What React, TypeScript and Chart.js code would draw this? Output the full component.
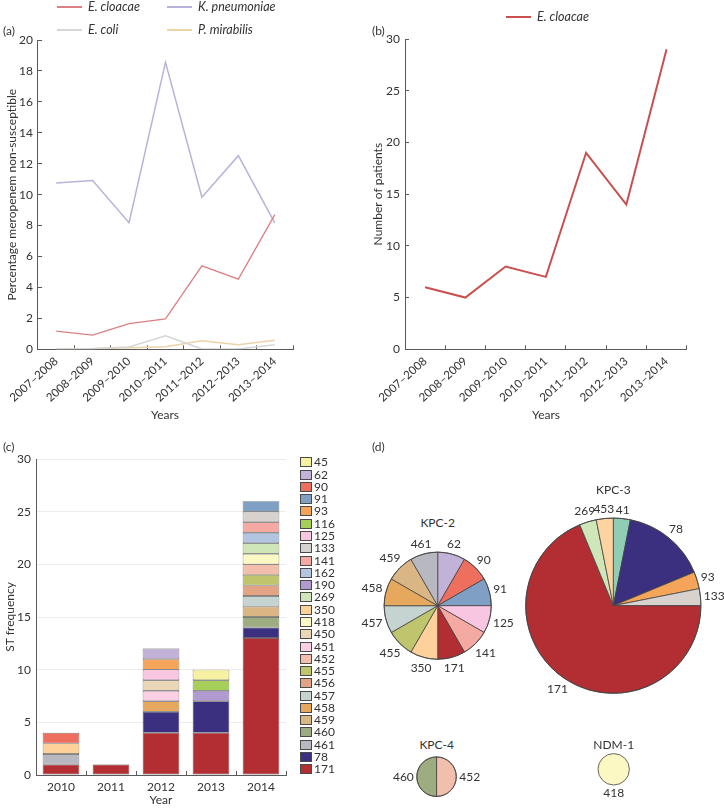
import React, { useEffect, useRef } from 'react';
import { Chart, registerables } from 'chart.js';

Chart.register(...registerables);

const FONT_FAMILY = 'Lato, "Open Sans", sans-serif';
const INK = '#333333';
const AXIS = '#5a5a5a';

// ---------- Panel (a) / (b) data ----------
const seasons = ['2007–2008', '2008–2009', '2009–2010', '2010–2011', '2011–2012', '2012–2013', '2013–2014'];
const pctEcloacae = [1.18, 0.92, 1.66, 1.96, 5.4, 4.54, 8.71];
const pctKpneumoniae = [10.75, 10.92, 8.19, 18.55, 9.83, 12.52, 8.17];
const pctEcoli = [0.02, 0.05, 0.15, 0.88, 0.02, 0.02, 0.3];
const pctPmirabilis = [0.02, 0.03, 0.1, 0.17, 0.55, 0.3, 0.58];
const patientsEcloacae = [6, 5, 8, 7, 19, 14, 29];

// ---------- Panel (c) data ----------
const stYears = ['2010', '2011', '2012', '2013', '2014'];
// stack order, bottom -> top
const stTypes = ['171', '78', '461', '460', '459', '458', '457', '456', '455', '452', '451', '450', '418', '350', '269', '190', '162', '141', '133', '125', '116', '93', '91', '90', '62', '45'];
const stCounts = [
  [1, 1, 4, 4, 13], // 171
  [0, 0, 2, 3, 1], // 78
  [1, 0, 0, 0, 0], // 461
  [0, 0, 0, 0, 1], // 460
  [0, 0, 0, 0, 1], // 459
  [0, 0, 1, 0, 0], // 458
  [0, 0, 0, 0, 1], // 457
  [0, 0, 0, 0, 1], // 456
  [0, 0, 0, 0, 1], // 455
  [0, 0, 0, 0, 1], // 452
  [0, 0, 1, 0, 0], // 451
  [0, 0, 1, 0, 0], // 450
  [0, 0, 0, 0, 1], // 418
  [1, 0, 0, 0, 0], // 350
  [0, 0, 0, 0, 1], // 269
  [0, 0, 0, 1, 0], // 190
  [0, 0, 0, 0, 1], // 162
  [0, 0, 0, 0, 1], // 141
  [0, 0, 0, 0, 1], // 133
  [0, 0, 1, 0, 0], // 125
  [0, 0, 0, 1, 0], // 116
  [0, 0, 1, 0, 0], // 93
  [0, 0, 0, 0, 1], // 91
  [1, 0, 0, 0, 0], // 90
  [0, 0, 1, 0, 0], // 62
  [0, 0, 0, 1, 0], // 45
];

// ---------- Panel (d) data ----------
const kpc2Types = ['62', '90', '91', '125', '141', '171', '350', '455', '457', '458', '459', '461'];
const kpc2Counts = [1, 1, 1, 1, 1, 1, 1, 1, 1, 1, 1, 1];
const kpc3Types = ['41', '78', '93', '133', '171', '269', '453'];
const kpc3Counts = [1, 5, 1, 1, 22, 1, 1];
const kpc4Types = ['452', '460'];
const kpc4Counts = [1, 1];
const ndm1Types = ['418'];
const ndm1Counts = [1];

const stColors: Record<string, string> = {
  '41': '#8fcdb4',
  '45': '#f6f1a0',
  '62': '#c3b2d7',
  '90': '#ef6f5f',
  '91': '#7fa0c4',
  '93': '#f5a55a',
  '116': '#a6cf5a',
  '125': '#f8c6e0',
  '133': '#d8d2ce',
  '141': '#f4a9a2',
  '162': '#b4c6df',
  '190': '#b19ad0',
  '269': '#cfe6b8',
  '350': '#fdd199',
  '418': '#fcf8c4',
  '450': '#ecd6b8',
  '451': '#fbd0e4',
  '452': '#f2bfac',
  '453': '#fdd3a0',
  '455': '#bec56c',
  '456': '#e3a486',
  '457': '#c5d4d0',
  '458': '#e6a85c',
  '459': '#d9b684',
  '460': '#9eac82',
  '461': '#b8b8c0',
  '78': '#3b2f7f',
  '171': '#b22e33',
};

const font12 = { family: FONT_FAMILY, size: 12 };
const fontX = { family: FONT_FAMILY, size: 11.5 };
const PIE_EDGE = '#444444';

const sliceLabelPlugin = {
  id: 'sliceLabels',
  afterDatasetsDraw(chart: any) {
    const ctx = chart.ctx;
    const meta = chart.getDatasetMeta(0);
    const labels = chart.data.labels;
    ctx.save();
    const first = meta.data[0];
    if (first) {
      const q = first.getProps(['x', 'y', 'outerRadius'], true);
      ctx.beginPath();
      ctx.arc(q.x, q.y, q.outerRadius, 0, Math.PI * 2);
      ctx.strokeStyle = PIE_EDGE;
      ctx.lineWidth = 0.8;
      ctx.stroke();
    }
    ctx.font = `12px ${FONT_FAMILY}`;
    ctx.fillStyle = INK;
    ctx.textAlign = 'center';
    ctx.textBaseline = 'middle';
    meta.data.forEach((arc: any, i: number) => {
      const p = arc.getProps(['x', 'y', 'startAngle', 'endAngle', 'outerRadius'], true);
      const mid = (p.startAngle + p.endAngle) / 2;
      const text = String(labels[i]);
      const w = ctx.measureText(text).width;
      const h = 10;
      const c = Math.cos(mid);
      const s = Math.sin(mid);
      const d = p.outerRadius + 3 + Math.abs(c) * w / 2 + Math.abs(s) * h / 2;
      ctx.fillText(text, p.x + c * d, p.y + s * d);
    });
    ctx.restore();
  },
};

function lineChartConfig(datasets: any[], yMax: number, yStep: number, yTitle: string, pad: any, yWidth: number, yTitlePad: number) {
  return {
    type: 'line',
    data: { labels: seasons, datasets },
    options: {
      responsive: false,
      animation: false,
      layout: { padding: pad },
      plugins: { legend: { display: false }, tooltip: { enabled: false } },
      scales: {
        x: {
          offset: true,
          grid: { offset: true, drawOnChartArea: false, drawTicks: true, tickLength: -4, color: AXIS },
          border: { color: AXIS, width: 1 },
          ticks: { autoSkip: false, maxRotation: 42, minRotation: 42, padding: 9, font: fontX, color: INK },
          title: { display: false },
          afterFit: (s: any) => { s.height = 70.7; },
        },
        y: {
          min: 0,
          max: yMax,
          grid: { drawOnChartArea: false, drawTicks: true, tickLength: -4, color: AXIS },
          border: { color: AXIS, width: 1 },
          ticks: { stepSize: yStep, padding: 9, font: font12, color: INK },
          title: { display: true, text: yTitle, font: font12, color: INK, padding: { top: yTitlePad, bottom: 0 } },
          afterFit: (s: any) => { s.width = yWidth; },
        },
      },
    },
  };
}

function pieConfig(types: string[], counts: number[], pad: any, edge = 0.8) {
  return {
    type: 'pie',
    data: {
      labels: types,
      datasets: [{
        data: counts,
        backgroundColor: types.map((t) => stColors[t]),
        borderColor: PIE_EDGE,
        borderWidth: edge,
      }],
    },
    options: {
      responsive: false,
      animation: false,
      layout: { padding: pad },
      plugins: { legend: { display: false }, tooltip: { enabled: false } },
    },
    plugins: [sliceLabelPlugin],
  };
}

const abs = (left: number, top: number, extra: any = {}) => ({ position: 'absolute' as const, left, top, ...extra });

function LegendLine({ x, y, color, text, width = 2 }: { x: number; y: number; color: string; text: string; width?: number }) {
  return (
    <>
      <div style={abs(x, y - width / 2, { width: 25, height: width, background: color })} />
      <div style={abs(x + 31, y - 8, { fontStyle: 'italic', fontSize: 12.5, lineHeight: '16px', color: INK, whiteSpace: 'nowrap' })}>{text}</div>
    </>
  );
}

function CenterText({ x, y, text, size = 12 }: { x: number; y: number; text: string; size?: number }) {
  return (
    <div style={abs(x, y, { transform: 'translate(-50%, -50%)', fontSize: size, color: INK, whiteSpace: 'nowrap', lineHeight: '14px' })}>{text}</div>
  );
}

export default function App() {
  const refA = useRef<HTMLCanvasElement>(null);
  const refB = useRef<HTMLCanvasElement>(null);
  const refC = useRef<HTMLCanvasElement>(null);
  const refK2 = useRef<HTMLCanvasElement>(null);
  const refK3 = useRef<HTMLCanvasElement>(null);
  const refK4 = useRef<HTMLCanvasElement>(null);
  const refN1 = useRef<HTMLCanvasElement>(null);

  useEffect(() => {
    const charts: Chart[] = [];

    charts.push(new Chart(refA.current!, lineChartConfig([
      { label: 'E. cloacae', data: pctEcloacae, borderColor: '#dc8083', borderWidth: 1.3, pointRadius: 0, tension: 0 },
      { label: 'K. pneumoniae', data: pctKpneumoniae, borderColor: '#b7b3d8', borderWidth: 1.5, pointRadius: 0, tension: 0 },
      { label: 'E. coli', data: pctEcoli, borderColor: '#d6d6d6', borderWidth: 1.5, pointRadius: 0, tension: 0 },
      { label: 'P. mirabilis', data: pctPmirabilis, borderColor: '#ebd3a8', borderWidth: 1.5, pointRadius: 0, tension: 0 },
    ], 20, 2, 'Percentage meropenem non-susceptible', { top: 40, right: 17, left: 0, bottom: 0 }, 36, 3) as any));

    charts.push(new Chart(refB.current!, lineChartConfig([
      { label: 'E. cloacae', data: patientsEcloacae, borderColor: '#c9504f', borderWidth: 2, pointRadius: 0, tension: 0 },
    ], 30, 5, 'Number of patients', { top: 39, right: 37.3, left: 0, bottom: 0 }, 43, 8.8) as any));

    charts.push(new Chart(refC.current!, {
      type: 'bar',
      data: {
        labels: stYears,
        datasets: stTypes.map((st, i) => ({
          label: st,
          data: stCounts[i].map((v) => (v > 0 ? v : null)),
          backgroundColor: stColors[st],
          borderColor: '#4a4a4a',
          borderWidth: 0.7,
          borderSkipped: false,
          barPercentage: 0.733,
          categoryPercentage: 1,
        })),
      },
      options: {
        responsive: false,
        animation: false,
        layout: { padding: { top: 29, right: 10, left: 0, bottom: 0 } },
        plugins: { legend: { display: false }, tooltip: { enabled: false } },
        scales: {
          x: {
            stacked: true,
            grid: { offset: true, drawOnChartArea: false, drawTicks: true, tickLength: -4, color: AXIS },
            border: { color: AXIS, width: 1 },
            ticks: { padding: 8.7, font: font12, color: INK },
            title: { display: false },
            afterFit: (s: any) => { s.height = 34; },
          },
          y: {
            stacked: true,
            min: 0,
            max: 30,
            grid: { drawOnChartArea: true, drawTicks: false, color: '#ececec' },
            border: { color: AXIS, width: 1 },
            ticks: { stepSize: 5, padding: 5, font: font12, color: INK },
            title: { display: true, text: 'ST frequency', font: font12, color: INK, padding: { top: 3, bottom: 0 } },
            afterFit: (s: any) => { s.width = 36; },
          },
        },
      },
    } as any));

    charts.push(new Chart(refK2.current!, pieConfig(kpc2Types, kpc2Counts, { left: 23.7, right: 28.3, top: 21.7, bottom: 20.3 }) as any));
    charts.push(new Chart(refK3.current!, pieConfig(kpc3Types, kpc3Counts, { left: 35.3, right: 22.7, top: 47.7, bottom: 26.3 }) as any));
    charts.push(new Chart(refK4.current!, pieConfig(kpc4Types, kpc4Counts, { left: 26.4, right: 33.3, top: 1.4, bottom: 8 }) as any));
    charts.push(new Chart(refN1.current!, pieConfig(ndm1Types, ndm1Counts, { left: 18, right: 20.6, top: 3.6, bottom: 20 }, 0) as any));

    return () => charts.forEach((c) => c.destroy());
  }, []);

  const cv = (ref: any, left: number, top: number, w: number, h: number) => (
    <canvas ref={ref} width={w} height={h} style={abs(left, top, { width: w, height: h })} />
  );

  const legendItems = [...stTypes].reverse();

  return (
    <div style={abs(0, 0, { width: 724, height: 809, background: '#ffffff', fontFamily: FONT_FAMILY, color: INK, overflow: 'hidden' })}>
      {cv(refA, 0, 0, 310, 420)}
      {cv(refB, 362, 0, 362, 420)}
      {cv(refC, 0, 430, 296, 379)}
      {cv(refK2, 360, 530, 160, 150)}
      {cv(refK3, 490, 470, 234, 250)}
      {cv(refK4, 390, 755, 100, 50)}
      {cv(refN1, 580, 750, 70, 55)}

      {/* panel letters */}
      <div style={abs(3, 23, { fontSize: 12, lineHeight: '16px' })}>(a)</div>
      <div style={abs(372, 23, { fontSize: 12, lineHeight: '16px' })}>(b)</div>
      <div style={abs(3, 439, { fontSize: 12, lineHeight: '16px' })}>(c)</div>
      <div style={abs(372, 439, { fontSize: 12, lineHeight: '16px' })}>(d)</div>

      {/* x-axis titles */}
      <CenterText x={165} y={415} text="Years" />
      <CenterText x={546} y={415} text="Years" />
      <CenterText x={161} y={800} text="Year" />

      {/* legend (a) */}
      <LegendLine x={57} y={7} color="#dc8083" text="E. cloacae" width={1.5} />
      <LegendLine x={167} y={7} color="#b7b3d8" text="K. pneumoniae" width={1.5} />
      <LegendLine x={57} y={30} color="#d6d6d6" text="E. coli" width={1.5} />
      <LegendLine x={167} y={30} color="#ebd3a8" text="P. mirabilis" width={1.5} />

      {/* legend (b) */}
      <LegendLine x={506} y={17} color="#c9504f" text="E. cloacae" width={2} />

      {/* legend (c) */}
      {legendItems.map((st, i) => (
        <React.Fragment key={st}>
          <div style={abs(300, 461.8 + i * 12.28 - 4.5, { width: 10, height: 8, background: stColors[st], border: '0.8px solid #4a4a4a' })} />
          <div style={abs(314, 461.8 + i * 12.28 - 7.5, { fontSize: 12, lineHeight: '15px', whiteSpace: 'nowrap' })}>{st}</div>
        </React.Fragment>
      ))}

      {/* pie titles */}
      <CenterText x={437.7} y={523} text="KPC-2" />
      <CenterText x={613.3} y={490} text="KPC-3" />
      <CenterText x={436.7} y={745} text="KPC-4" />
      <CenterText x={613.7} y={745} text="NDM-1" />
    </div>
  );
}
